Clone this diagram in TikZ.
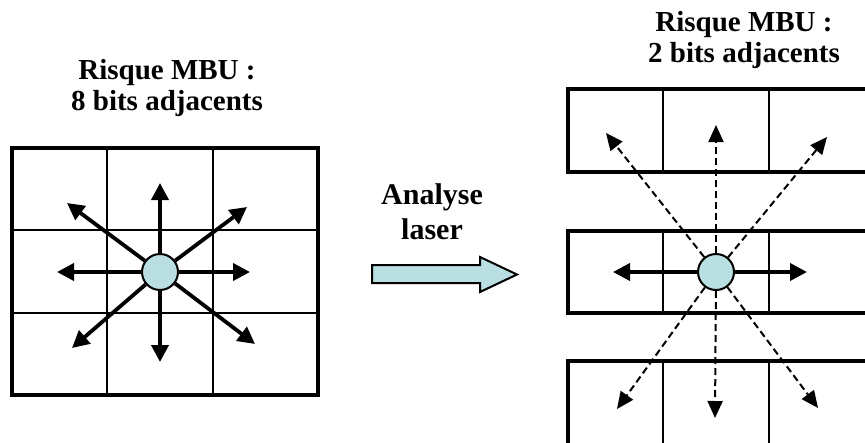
\documentclass[tikz,border=0pt]{standalone}
\usepackage{fontspec}
\setmainfont{Liberation Serif}
\definecolor{mbucyan}{HTML}{B9DFE3}
\usepackage{tikz}
\usetikzlibrary{arrows.meta}

\begin{document}
\begin{tikzpicture}[x=1pt,y=-1pt,
  title/.style={align=center,inner sep=0pt,
    font=\fontsize{29}{31}\selectfont\bfseries},
  frame/.style={line width=3.5pt},
  cell/.style={line width=2.3pt},
  spot/.style={circle,draw,line width=2pt,fill=mbucyan,
    minimum size=36pt,inner sep=0pt},
  arr/.style={-{Triangle[length=17pt,width=17pt]},line width=3.8pt},
  darr/.style={-{Triangle[length=17pt,width=15pt]},line width=2pt,
    dash pattern=on 7pt off 4pt}]
  \useasboundingbox (0,0) rectangle (865,442);
  % titles
  \node[title] (lefttitle) at (167,88) {Risque MBU :\\ 8 bits adjacents};
  \node[title] (righttitle) at (744,40) {Risque MBU :\\ 2 bits adjacents};
  \node[title,font=\fontsize{30}{35}\selectfont\bfseries] (laser) at (432,212)
    {Analyse\\ laser};
  % left memory plane
  \draw[cell] (107,148) -- (107,395) (213,148) -- (213,395)
    (12,230) -- (318,230) (12,313) -- (318,313);
  \draw[frame] (12,148) rectangle (318,395);
  % right memory plane, three words
  \foreach \top/\bot in {89/172,231/313,361/470}{
    \draw[cell] (663,\top) -- (663,\bot) (769,\top) -- (769,\bot);
    \draw[frame] (568,\top) rectangle (875,\bot);
  }
  % block arrow
  \draw[line width=2pt,fill=mbucyan] (372,265) -- (480,265) -- (480,257)
    -- (517,274.5) -- (480,292) -- (480,283) -- (372,283) -- cycle;
  % impact points
  \node[spot] (hitl) at (160,272) {};
  \node[spot] (hitr) at (716,272) {};
  \coordinate (ln) at (160,183);
  \coordinate (ls) at (160,362);
  \coordinate (lw) at (57,272);
  \coordinate (le) at (250,272);
  \coordinate (lnw) at (67,203);
  \coordinate (lne) at (247,207);
  \coordinate (lsw) at (72,348);
  \coordinate (lse) at (255,344);
  \coordinate (rn) at (716,125);
  \coordinate (rs) at (715,418);
  \coordinate (rw) at (613,272);
  \coordinate (re) at (807,272);
  \coordinate (rnw) at (606,133);
  \coordinate (rne) at (827,137);
  \coordinate (rsw) at (617,409);
  \coordinate (rse) at (818,408);
  \draw[arr] (hitl) -- (ln);
  \draw[arr] (hitl) -- (ls);
  \draw[arr] (hitl) -- (lw);
  \draw[arr] (hitl) -- (le);
  \draw[arr] (hitl) -- (lnw);
  \draw[arr] (hitl) -- (lne);
  \draw[arr] (hitl) -- (lsw);
  \draw[arr] (hitl) -- (lse);
  \draw[arr] (hitr) -- (rw);
  \draw[arr] (hitr) -- (re);
  \draw[darr] (hitr) -- (rn);
  \draw[darr] (hitr) -- (rs);
  \draw[darr] (hitr) -- (rnw);
  \draw[darr] (hitr) -- (rne);
  \draw[darr] (hitr) -- (rsw);
  \draw[darr] (hitr) -- (rse);
\end{tikzpicture}
\end{document}
